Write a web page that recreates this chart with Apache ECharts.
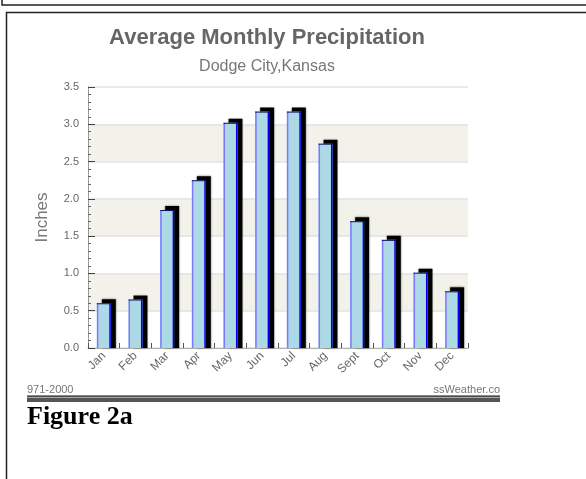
<!DOCTYPE html>
<html>
<head>
<meta charset="utf-8">
<script src="https://cdn.jsdelivr.net/npm/echarts@6/dist/echarts.min.js"></script>
<style>
  html, body { margin: 0; padding: 0; background: #fff; }
  #chart { width: 586px; height: 479px; }
</style>
</head>
<body>
<div id="chart"></div>
<script>
// Normal monthly precipitation, Dodge City, Kansas (inches)
const months = ['Jan', 'Feb', 'Mar', 'Apr', 'May', 'Jun', 'Jul', 'Aug', 'Sept', 'Oct', 'Nov', 'Dec'];
const precipitation = [0.60, 0.65, 1.85, 2.25, 3.02, 3.17, 3.17, 2.74, 1.70, 1.45, 1.01, 0.76];
const yTicks = [0, 0.5, 1.0, 1.5, 2.0, 2.5, 3.0, 3.5];

const chart = echarts.init(document.getElementById('chart'), null, { renderer: 'canvas' });

// Bar with a dark drop-shadow block behind it, giving the raised look
function renderBar(params, api) {
  const cat = api.value(0);
  const val = api.value(1);
  const top = api.coord([cat, val]);
  const base = api.coord([cat, 0]);
  const w = api.size([1, 0])[0] * 0.44;
  const x = top[0] - w / 2;
  const h = base[1] - top[1];
  const dx = 5, dy = 4;
  return {
    type: 'group',
    children: [
      {
        type: 'rect',
        shape: { x: x + dx, y: top[1] - dy, width: w, height: h + dy },
        style: { fill: '#000', shadowBlur: 2, shadowColor: 'rgba(0,0,0,0.5)' }
      },
      {
        type: 'rect',
        shape: { x: x, y: top[1], width: w, height: h },
        style: { fill: '#add8e6' }
      },
      {
        type: 'line',
        shape: { x1: x + 0.75, y1: top[1], x2: x + 0.75, y2: base[1] },
        style: { stroke: '#7a7aff', lineWidth: 1.5 }
      },
      {
        type: 'line',
        shape: { x1: x + w - 0.75, y1: top[1], x2: x + w - 0.75, y2: base[1] },
        style: { stroke: '#0000f0', lineWidth: 1.5 }
      },
      {
        type: 'line',
        shape: { x1: x, y1: top[1] + 0.5, x2: x + w, y2: top[1] + 0.5 },
        style: { stroke: '#101060', lineWidth: 1 }
      }
    ]
  };
}

const option = {
  animation: false,
  backgroundColor: '#ffffff',
  grid: { left: 88, right: 118, top: 87, bottom: 131, containLabel: false },
  xAxis: {
    type: 'category',
    data: months,
    boundaryGap: true,
    axisLine: { show: true, lineStyle: { color: '#b0b0b0', width: 1 } },
    axisTick: { show: true, inside: true, length: 5, alignWithLabel: false, lineStyle: { color: '#555' } },
    axisLabel: {
      rotate: 45, fontSize: 12, color: '#666', margin: 6,
      fontFamily: 'Liberation Sans, Arial, sans-serif'
    },
    splitLine: { show: false }
  },
  yAxis: {
    type: 'value',
    min: yTicks[0],
    max: yTicks[yTicks.length - 1],
    interval: 0.5,
    name: 'Inches',
    nameLocation: 'middle',
    nameRotate: 90,
    nameGap: 37,
    nameTextStyle: { fontSize: 17, color: '#777', fontFamily: 'Liberation Sans, Arial, sans-serif' },
    axisLine: { show: true, lineStyle: { color: '#999', width: 1 } },
    axisTick: { show: true, inside: true, length: 7, lineStyle: { color: '#444' } },
    minorTick: { show: true, splitNumber: 5, length: 3, lineStyle: { color: '#666' } },
    axisLabel: {
      fontSize: 11, color: '#666', margin: 9,
      fontFamily: 'Liberation Sans, Arial, sans-serif',
      formatter: v => v.toFixed(1)
    },
    splitLine: { show: true, lineStyle: { color: '#e2e2e2', width: 1.5 } },
    splitArea: { show: true, areaStyle: { color: ['#ffffff', '#f2f1ea'] } }
  },
  series: [{
    type: 'custom',
    renderItem: renderBar,
    encode: { x: 0, y: 1 },
    data: precipitation.map((v, i) => [i, v]),
    clip: false,
    z: 3
  }],
  graphic: [
    // page frame lines
    { type: 'polyline', shape: { points: [[2, 0], [2, 5], [586, 5]] }, style: { stroke: '#222', lineWidth: 1.5, fill: null } },
    { type: 'polyline', shape: { points: [[6.5, 479], [6.5, 12.5], [586, 12.5]] }, style: { stroke: '#222', lineWidth: 1.5, fill: null } },
    // titles
    {
      type: 'text', x: 267, y: 38,
      style: {
        text: 'Average Monthly Precipitation', align: 'center', verticalAlign: 'middle',
        font: 'bold 22px "Liberation Sans", Arial, sans-serif', fill: '#666'
      }
    },
    {
      type: 'text', x: 267, y: 67,
      style: {
        text: 'Dodge City,Kansas', align: 'center', verticalAlign: 'middle',
        font: '16px "Liberation Sans", Arial, sans-serif', fill: '#777'
      }
    },
    // footer strip
    {
      type: 'text', x: 27, y: 390,
      style: { text: '971-2000', align: 'left', verticalAlign: 'middle', font: '11px "Liberation Sans", Arial, sans-serif', fill: '#777' }
    },
    {
      type: 'text', x: 500, y: 390,
      style: { text: 'ssWeather.co', align: 'right', verticalAlign: 'middle', font: '11px "Liberation Sans", Arial, sans-serif', fill: '#777' }
    },
    { type: 'rect', shape: { x: 27, y: 395.5, width: 473, height: 1.2 }, style: { fill: '#111' } },
    { type: 'rect', shape: { x: 27, y: 397.5, width: 473, height: 4.5 }, style: { fill: '#555' } },
    {
      type: 'text', x: 27, y: 417,
      style: { text: 'Figure 2a', align: 'left', verticalAlign: 'middle', font: 'bold 26px "Liberation Serif", "Times New Roman", serif', fill: '#000' }
    }
  ]
};

chart.setOption(option);
</script>
</body>
</html>
